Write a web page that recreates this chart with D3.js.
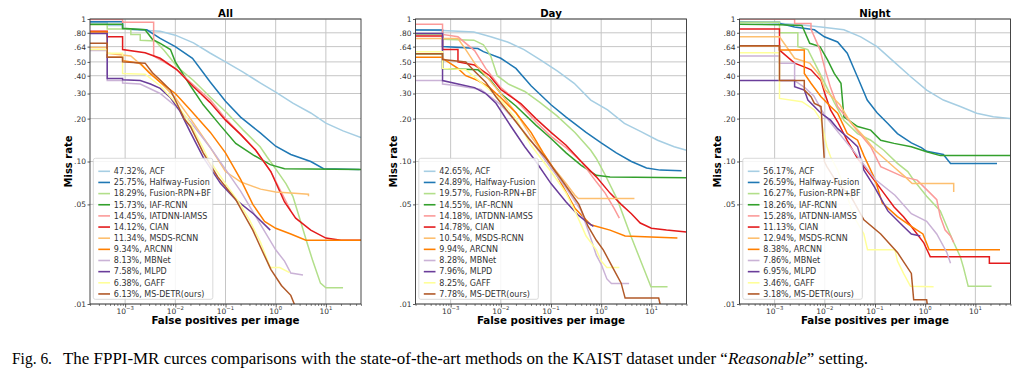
<!DOCTYPE html>
<html><head><meta charset="utf-8">
<script src="https://cdn.jsdelivr.net/npm/d3@7"></script>
<style>body{margin:0;background:#fff;} svg{display:block;}</style>
</head><body>
<svg id="c" width="1024" height="379"></svg>
<script>
// ---------- data ----------
const methods = ["ACF","Halfway-Fusion","Fusion-RPN+BF","IAF-RCNN","IATDNN-IAMSS","CIAN","MSDS-RCNN","ARCNN","MBNet","MLPD","GAFF","MS-DETR(ours)"];
const colors = ["#a6cee3","#1f78b4","#b2df8a","#33a02c","#fb9a99","#e31a1c","#fdbf6f","#ff7f00","#cab2d6","#6a3d9a","#ffff99","#b15928"];
const panelTitles = ["All","Day","Night"];
const mrAll = [47.32,25.75,18.29,15.73,14.45,14.12,11.34,9.34,8.13,7.58,6.38,6.13];
const mrDay = [42.65,24.89,19.57,14.55,14.18,14.78,10.54,9.94,8.28,7.96,8.25,7.78];
const mrNight = [56.17,26.59,16.27,18.26,15.28,11.13,12.94,8.38,7.86,6.95,3.46,3.18];
const yTicks = [1,.8,.64,.5,.4,.3,.2,.1,.05,.01];
const yTickLabels = ["1",".80",".64",".50",".40",".30",".20",".10",".05",".01"];
const xTicks = [1e-3,1e-2,1e-1,1,10];
const xTickExps = ["\u22123","\u22122","\u22121","0","1"];

// curves: [false positives per image, miss rate]
const curvesAll = [
 [[2e-4,.94],[4.4e-4,.94],[4.4e-4,.90],[8.9e-4,.90],[8.9e-4,.85],[5e-3,.82],[0.01,.77],[0.023,.68],[0.05,.575],[0.1,.50],[0.22,.425],[0.5,.355],[1,.307],[2.2,.257],[5,.219],[10,.186],[22,.164],[50,.147]],
 [[2e-4,.955],[8.9e-4,.955],[8.9e-4,.85],[2.7e-3,.84],[5e-3,.73],[0.01,.64],[0.022,.53],[0.05,.36],[0.1,.265],[0.2,.205],[0.5,.158],[1,.128],[2,.112],[5,.10],[9,.089],[47,.088]],
 [[2e-4,.91],[4.4e-4,.91],[4.4e-4,.85],[1.3e-3,.85],[1.3e-3,.78],[2e-3,.78],[2e-3,.71],[4e-3,.70],[6e-3,.60],[0.011,.46],[0.023,.37],[0.049,.285],[0.106,.22],[0.226,.166],[0.49,.127],[0.67,.108],[1.04,.087],[1.6,.07],[2.2,.057],[3,.04],[4.2,.027],[5.5,.02],[7.8,.014],[10,.013],[22,.013]],
 [[2e-4,.92],[8.9e-4,.92],[8.9e-4,.86],[2.5e-3,.84],[3.5e-3,.72],[5e-3,.675],[8e-3,.61],[0.01,.50],[0.02,.34],[0.036,.25],[0.078,.18],[0.16,.134],[0.36,.111],[0.78,.095],[1.5,.089],[50,.088]],
 [[2e-4,.99],[8.9e-4,.99],[8.9e-4,.95],[3.7e-3,.95],[3.7e-3,.55],[0.01,.45],[0.02,.36],[0.05,.27],[0.1,.20],[0.2,.155],[0.4,.12],[0.8,.085],[1.5,.055],[2,.045]],
 [[2e-4,.82],[4.4e-4,.82],[4.4e-4,.75],[8.9e-4,.75],[8.9e-4,.61],[2.5e-3,.58],[5e-3,.53],[0.0108,.44],[0.023,.335],[0.049,.26],[0.1,.195],[0.2,.155],[0.4,.12],[0.8,.085],[1.5,.052],[2.5,.04],[5,.033],[10,.029],[20,.028],[50,.028]],
 [[2e-4,.63],[4.4e-4,.63],[4.4e-4,.575],[1.3e-3,.55],[2.5e-3,.45],[5e-3,.36],[0.01,.28],[0.02,.20],[0.05,.125],[0.1,.085],[0.2,.072],[0.5,.064],[1,.061],[2,.06],[4.5,.059],[4.5,.057]],
 [[2e-4,.81],[4.4e-4,.81],[4.4e-4,.54],[8.9e-4,.54],[8.9e-4,.51],[2e-3,.49],[3e-3,.42],[5e-3,.36],[0.01,.30],[0.02,.23],[0.05,.16],[0.1,.115],[0.2,.075],[0.35,.05],[0.6,.038],[1,.034],[2,.031],[4,.028],[50,.028]],
 [[2e-4,.60],[4.4e-4,.60],[4.4e-4,.37],[8.9e-4,.37],[8.9e-4,.355],[2e-3,.35],[5e-3,.30],[0.01,.245],[0.02,.19],[0.05,.125],[0.1,.088],[0.2,.062],[0.5,.036],[1,.024],[1.5,.02],[2,.0165],[3.5,.016]],
 [[2e-4,.79],[4.4e-4,.79],[4.4e-4,.383],[8.9e-4,.383],[8.9e-4,.375],[2e-3,.37],[3.2e-3,.35],[5e-3,.326],[8e-3,.28],[0.012,.23],[0.02,.16],[0.036,.107],[0.08,.07],[0.16,.054],[0.36,.043],[0.78,.033]],
 [[2e-4,.61],[4.4e-4,.61],[4.4e-4,.575],[8.9e-4,.575],[8.9e-4,.415],[2.5e-3,.41],[5e-3,.34],[0.01,.26],[0.02,.185],[0.03,.14],[0.045,.105],[0.065,.087],[0.1,.07],[0.19,.051],[0.3,.039],[0.5,.027],[0.78,.018],[1.2,.018],[1.9,.0166]],
 [[2e-4,.675],[4.4e-4,.675],[4.4e-4,.54],[8.9e-4,.54],[8.9e-4,.50],[2.5e-3,.49],[3.5e-3,.42],[5e-3,.373],[8e-3,.317],[0.01,.27],[0.015,.20],[0.02,.176],[0.036,.115],[0.07,.078],[0.16,.054],[0.35,.033],[0.5,.025],[0.8,.0175],[1.3,.0135],[2,.0115],[2.4,.0098]]
];
const curvesDay = [
 [[2e-4,.84],[6.9e-4,.83],[2.9e-3,.81],[6.3e-3,.75],[0.0136,.69],[0.029,.61],[0.0625,.515],[0.135,.43],[0.29,.354],[0.62,.27],[1.34,.23],[2.9,.185],[6.2,.162],[13.3,.141],[28.5,.127],[50,.12]],
 [[2e-4,.837],[6.9e-4,.837],[6.9e-4,.64],[3.5e-3,.62],[4.5e-3,.59],[0.01,.53],[0.02,.45],[0.04,.34],[0.1,.25],[0.2,.205],[0.5,.16],[1,.135],[2,.115],[4,.10],[8,.09],[15,.087],[40,.086]],
 [[2e-4,.78],[6.9e-4,.78],[6.9e-4,.72],[2.9e-3,.71],[4.5e-3,.66],[6.3e-3,.55],[8.5e-3,.40],[0.014,.35],[0.03,.31],[0.06,.26],[0.13,.21],[0.3,.16],[0.62,.12],[0.8,.105],[1.15,.083],[2.1,.054],[3.9,.03],[7.2,.0174],[9.8,.0132],[21,.0132]],
 [[2e-4,.57],[6.9e-4,.57],[6.9e-4,.45],[3.5e-3,.44],[6.3e-3,.37],[0.01,.30],[0.02,.245],[0.05,.18],[0.1,.145],[0.2,.115],[0.4,.094],[0.8,.08],[1.5,.078],[50,.077]],
 [[2e-4,.92],[6.9e-4,.92],[6.9e-4,.78],[1.4e-3,.75],[3e-3,.60],[5e-3,.45],[0.01,.33],[0.02,.27],[0.05,.19],[0.1,.15],[0.2,.125],[0.4,.10],[0.8,.072],[1.2,.06],[1.8,.047],[2.3,.04]],
 [[2e-4,.76],[6.9e-4,.76],[6.9e-4,.61],[1.4e-3,.61],[1.4e-3,.50],[3e-3,.475],[6e-3,.40],[0.01,.32],[0.025,.255],[0.05,.20],[0.1,.16],[0.2,.13],[0.4,.10],[0.8,.078],[1.5,.06],[2.5,.05],[4,.043],[6,.037],[10,.034],[20,.033],[50,.032]],
 [[2e-4,.73],[1.4e-3,.73],[2e-3,.61],[3e-3,.49],[5e-3,.40],[0.01,.30],[0.02,.22],[0.04,.15],[0.1,.095],[0.2,.07],[0.3,.058],[0.35,.055],[4.6,.055]],
 [[2e-4,.54],[6.9e-4,.54],[6.9e-4,.53],[1.4e-3,.45],[2e-3,.40],[3.5e-3,.37],[6e-3,.33],[0.01,.28],[0.02,.22],[0.04,.16],[0.07,.115],[0.1,.095],[0.18,.065],[0.3,.047],[0.62,.036],[1.5,.033],[3,.03],[33,.029]],
 [[2e-4,.37],[6.9e-4,.37],[6.9e-4,.35],[1.4e-3,.34],[4e-3,.32],[0.01,.25],[0.02,.19],[0.04,.14],[0.1,.09],[0.2,.065],[0.4,.045],[0.6,.03],[0.8,.022],[1,.019],[1.3,.015],[1.6,.0139],[3.6,.0139]],
 [[2e-4,.79],[6.9e-4,.79],[6.9e-4,.37],[1.4e-3,.35],[3e-3,.33],[5e-3,.30],[8e-3,.256],[0.016,.176],[0.03,.127],[0.05,.10],[0.1,.07],[0.2,.052],[0.35,.042],[0.5,.038],[0.7,.035]],
 [[2e-4,.59],[6.9e-4,.59],[6.9e-4,.45],[2e-3,.44],[4e-3,.36],[0.01,.27],[0.02,.20],[0.04,.13],[0.1,.085],[0.2,.06],[0.3,.045],[0.5,.03],[0.8,.024],[1,.02],[1.3,.018],[2.3,.018]],
 [[2e-4,.57],[6.9e-4,.57],[6.9e-4,.52],[2e-3,.50],[3e-3,.43],[5e-3,.36],[0.008,.285],[0.02,.19],[0.036,.145],[0.08,.105],[0.16,.075],[0.36,.05],[0.55,.035],[0.8,.028],[1.1,.024],[1.7,.018],[2.5,.014],[3,.011],[14,.011],[15,.0099]]
];
const curvesNight = [
 [[2e-4,.96],[2.5e-3,.92],[8.4e-3,.88],[0.024,.84],[0.052,.75],[0.11,.64],[0.24,.50],[0.53,.39],[1.07,.317],[2.3,.27],[5,.243],[10.6,.218],[22.7,.206],[49,.20]],
 [[2e-4,.95],[1.25e-3,.95],[1.25e-3,.93],[2.5e-3,.88],[6.2e-3,.84],[9.8e-3,.75],[0.018,.69],[0.028,.575],[0.045,.39],[0.07,.27],[0.11,.22],[0.18,.185],[0.28,.157],[0.53,.135],[0.84,.125],[1.07,.118],[2.3,.112],[3.2,.097],[27,.097]],
 [[2e-4,.95],[1.25e-3,.95],[1.25e-3,.80],[2.9e-3,.80],[2.9e-3,.64],[4.6e-3,.61],[8.4e-3,.40],[0.0154,.26],[0.024,.195],[0.045,.157],[0.082,.141],[0.15,.12],[0.28,.097],[0.45,.085],[0.59,.074],[1.07,.057],[2,.045],[2.7,.035],[3.7,.027],[5,.0215],[5.8,.018],[7.2,.0133],[21,.0133]],
 [[2e-4,.92],[1.25e-3,.91],[3.5e-3,.90],[5e-3,.675],[8e-3,.64],[0.0114,.515],[0.0154,.415],[0.021,.354],[0.024,.206],[0.045,.176],[0.082,.166],[0.13,.141],[0.24,.134],[0.53,.127],[1.07,.117],[2,.11],[50,.11]],
 [[2e-4,1.0],[2.5e-3,1.0],[2.5e-3,.93],[5.3e-3,.93],[5.3e-3,.85],[8e-3,.61],[0.01,.45],[0.013,.33],[0.018,.243],[0.038,.176],[0.082,.127],[0.13,.092],[0.37,.078],[0.69,.074],[1.26,.06],[1.7,.054],[2,.041],[2.5,.033],[3.2,.03],[3.7,.027]],
 [[2e-4,.85],[1.25e-3,.85],[1.25e-3,.605],[2.5e-3,.49],[4.6e-3,.45],[5.3e-3,.44],[8.4e-3,.37],[0.01,.30],[0.013,.23],[0.018,.19],[0.028,.14],[0.045,.105],[0.082,.08],[0.15,.06],[0.24,.048],[0.37,.041],[0.53,.035],[0.93,.027],[1.26,.0215],[19,.0215],[19,.0193],[50,.0193]],
 [[2e-4,.75],[1.25e-3,.75],[2.5e-3,.53],[5e-3,.49],[8e-3,.40],[0.01,.32],[0.02,.25],[0.032,.19],[0.06,.15],[0.1,.12],[0.25,.09],[0.4,.078],[0.55,.07],[3.7,.07],[3.7,.061]],
 [[2e-4,.65],[1.25e-3,.65],[1.25e-3,.605],[3.9e-3,.605],[3.9e-3,.415],[5.3e-3,.354],[8.4e-3,.285],[0.013,.243],[0.018,.218],[0.028,.157],[0.045,.141],[0.06,.11],[0.1,.075],[0.14,.051],[0.28,.041],[0.53,.035],[0.9,.031],[1.2,.024],[31,.024]],
 [[2e-4,.55],[1.25e-3,.55],[1.25e-3,.49],[2.5e-3,.49],[2.5e-3,.37],[4e-3,.33],[6e-3,.29],[0.01,.21],[0.02,.155],[0.04,.115],[0.1,.075],[0.25,.058],[0.53,.043],[1.07,.038],[1.7,.031],[2.7,.023],[3.2,.0193]],
 [[2e-4,.37],[2.5e-3,.37],[2.5e-3,.335],[3.9e-3,.317],[4.6e-3,.27],[8.4e-3,.218],[0.013,.195],[0.018,.17],[0.033,.141],[0.045,.127],[0.06,.087],[0.096,.067],[0.18,.045],[0.37,.035],[0.53,.031],[0.8,.03]],
 [[2e-4,.58],[1.25e-3,.58],[1.25e-3,.277],[3.5e-3,.263],[6.2e-3,.23],[8.4e-3,.195],[0.011,.127],[0.013,.108],[0.018,.087],[0.028,.057],[0.038,.041],[0.06,.031],[0.071,.024],[0.25,.024],[0.28,.02],[0.37,.0164],[0.51,.0133],[1.47,.0132]],
 [[2e-4,.65],[1.25e-3,.65],[1.25e-3,.37],[3.9e-3,.37],[3.9e-3,.317],[5.3e-3,.285],[6.2e-3,.256],[8.4e-3,.243],[9.8e-3,.10],[0.011,.092],[0.018,.07],[0.033,.057],[0.06,.039],[0.13,.031],[0.28,.023],[0.53,.0164],[0.59,.0107],[1.07,.0107],[1.1,.0099]]
];

// ---------- drawing ----------
const svg = d3.select("#c");
svg.append("rect").attr("width",1024).attr("height",379).attr("fill","#fff");
const font = "'DejaVu Sans', sans-serif";
const panelX = [90, 415.5, 739.5];
const plotTop = 19, W = 271, H = 285;
const panelCurves = [curvesAll, curvesDay, curvesNight];
const panelMR = [mrAll, mrDay, mrNight];

const xScale = d3.scaleLog().domain([Math.pow(10,-3.7), Math.pow(10,1.7)]).range([0, W]);
const yScale = d3.scaleLog().domain([0.01, 1]).range([H, 0]);

const minorTicks = [];
for (let e = -4; e <= 1; e++) for (let m = 2; m <= 9; m++) {
  const v = m * Math.pow(10, e);
  if (v >= xScale.domain()[0] && v <= xScale.domain()[1]) minorTicks.push(v);
}

panelTitles.forEach((title, p) => {
  const g = svg.append("g").attr("transform", `translate(${panelX[p]},${plotTop})`);
  const clipId = "clip" + p;
  g.append("clipPath").attr("id", clipId).append("rect").attr("width", W).attr("height", H);

  // grid
  g.append("g").selectAll("line").data(xTicks).join("line")
    .attr("x1", d => xScale(d)).attr("x2", d => xScale(d)).attr("y1", 0).attr("y2", H)
    .attr("stroke", "#c6c6c6").attr("stroke-width", 1);
  g.append("g").selectAll("line").data(yTicks).join("line")
    .attr("y1", d => yScale(d)).attr("y2", d => yScale(d)).attr("x1", 0).attr("x2", W)
    .attr("stroke", "#c6c6c6").attr("stroke-width", 1);

  // curves
  const line = d3.line().x(d => xScale(d[0])).y(d => yScale(d[1]));
  g.append("g").attr("clip-path", `url(#${clipId})`).selectAll("path")
    .data(panelCurves[p]).join("path")
    .attr("d", line).attr("fill", "none")
    .attr("stroke", (d, i) => colors[i]).attr("stroke-width", 1.5)
    .attr("stroke-linejoin", "miter");

  // frame
  g.append("rect").attr("width", W).attr("height", H).attr("fill", "none")
    .attr("stroke", "#333").attr("stroke-width", 0.9);

  // x axis ticks
  const xa = g.append("g").attr("transform", `translate(0,${H})`);
  xa.call(d3.axisBottom(xScale).tickValues(minorTicks).tickSize(2).tickFormat(""))
    .call(s => s.select(".domain").remove())
    .call(s => s.selectAll("line").attr("stroke", "#333").attr("stroke-width", 0.6));
  const xb = g.append("g").attr("transform", `translate(0,${H})`);
  xb.call(d3.axisBottom(xScale).tickValues(xTicks).tickSize(3.5).tickFormat(""))
    .call(s => s.select(".domain").remove())
    .call(s => s.selectAll("line").attr("stroke", "#333").attr("stroke-width", 0.8));
  xTicks.forEach((t, i) => {
    const tx = g.append("text").attr("x", xScale(t)).attr("y", H + 9.5)
      .attr("text-anchor", "middle").attr("font-family", font).attr("font-size", 7.5).attr("fill", "#333");
    tx.append("tspan").text("10");
    tx.append("tspan").attr("dy", -3.2).attr("font-size", 5.3).text(xTickExps[i]);
  });

  // y axis
  const ya = g.append("g");
  ya.call(d3.axisLeft(yScale).tickValues(yTicks).tickSize(2.5).tickPadding(1.5)
      .tickFormat((d, i) => yTickLabels[i]))
    .call(s => s.select(".domain").remove())
    .call(s => s.selectAll("line").attr("stroke", "#333").attr("stroke-width", 0.8))
    .call(s => s.selectAll("text").attr("font-family", font).attr("font-size", 7.5).attr("fill", "#333"));

  // title and labels
  g.append("text").attr("x", W / 2).attr("y", -2.5).attr("text-anchor", "middle")
    .attr("font-family", font).attr("font-weight", "bold").attr("font-size", 10.2).text(title);
  g.append("text").attr("x", W / 2).attr("y", H + 19.5).attr("text-anchor", "middle")
    .attr("font-family", font).attr("font-weight", "bold").attr("font-size", 10.3)
    .text("False positives per image");
  g.append("text").attr("transform", `translate(-18.5,${H / 2}) rotate(-90)`)
    .attr("text-anchor", "middle").attr("font-family", font).attr("font-weight", "bold")
    .attr("font-size", 10).text("Miss rate");

  // legend
  const lg = g.append("g").attr("transform", `translate(3.3,${H - 145.7})`);
  lg.append("rect").attr("width", 119.5).attr("height", 141).attr("rx", 2)
    .attr("fill", "#fff").attr("fill-opacity", 0.85).attr("stroke", "#d0d0d0").attr("stroke-width", 0.8);
  methods.forEach((m, i) => {
    const ry = 13 + i * 11.15;
    lg.append("line").attr("x1", 5).attr("x2", 16.7).attr("y1", ry).attr("y2", ry)
      .attr("stroke", colors[i]).attr("stroke-width", 1.6);
    lg.append("text").attr("x", 20.5).attr("y", ry).attr("dy", "0.35em")
      .attr("font-family", font).attr("font-size", 8).attr("fill", "#333")
      .text(`${panelMR[p][i].toFixed(2)}%, ${m}`);
  });
});

// caption
const serif = "'Liberation Serif','Times New Roman',serif";
svg.append("text").attr("x", 12).attr("y", 364).attr("font-family", serif).attr("font-size", 17)
  .attr("textLength", 40).attr("lengthAdjust", "spacingAndGlyphs").text("Fig. 6.");
const cap = svg.append("text").attr("x", 63).attr("y", 364).attr("font-family", serif).attr("font-size", 17)
  .attr("textLength", 805).attr("lengthAdjust", "spacingAndGlyphs");
cap.append("tspan").text("The FPPI-MR curces comparisons with the state-of-the-art methods on the KAIST dataset under \u201C");
cap.append("tspan").attr("font-style", "italic").text("Reasonable");
cap.append("tspan").text("\u201D setting.");
</script>
</body></html>
